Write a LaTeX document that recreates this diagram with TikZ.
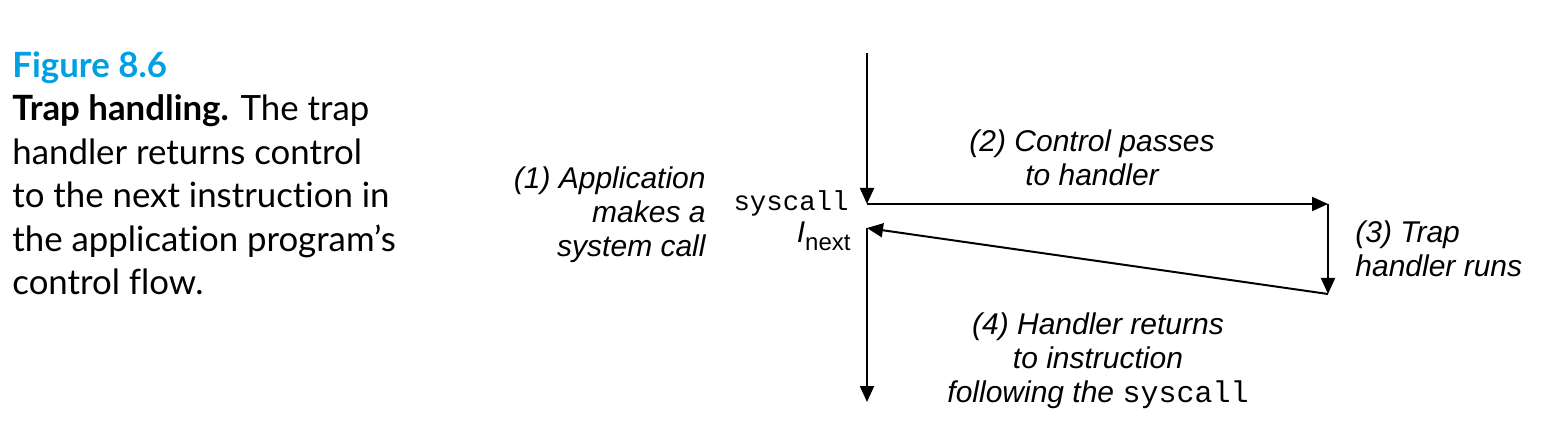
\documentclass[tikz,border=0pt]{standalone}
\usepackage{fontspec}
\setmainfont{Lato}[Ligatures=NoCommon]
\setmonofont{Liberation Mono}
\newfontfamily\lblfont{Liberation Sans}
\usepackage{tikz}
\usepackage{tkz-euclide}
\usepackage{xcolor}
\usetikzlibrary{arrows.meta}
\definecolor{figblue}{RGB}{0,160,227}

\tikzset{
  flow/.style={line width=1pt,-{Triangle[length=8pt,width=7pt]}},
  lbl/.style={font=\lblfont\itshape\fontsize{15}{17}\selectfont,inner sep=0pt},
  captxt/.style={font=\fontsize{17.4}{21.75}\selectfont,inner sep=0pt,align=left,anchor=north west}
}

\begin{document}
\begin{tikzpicture}[x=0.5pt,y=-0.5pt]
    \useasboundingbox (0,0) rectangle (1547,443);
    \tkzDefPoints{867/53/A,867/204/S,1328/204/H,1328/294/R,867/228/N,867/402/E}
    \draw[flow] (A) -- (S);
    \draw[flow] (S) -- (H);
    \draw[flow] (H) -- (R);
    \draw[flow] (R) -- (N);
    \draw[flow] (N) -- (E);
    % caption
    \node[captxt] (fig) at (12,51) {{\color{figblue}\bfseries Figure 8.6}\\
      \textbf{Trap handling.} The trap\\
      handler returns control\\
      to the next instruction in\\
      the application program’s\\
      control flow.};
    % labels
    \node[lbl,anchor=east,align=right] (app) at (706,215) {(1) Application\\makes a\\system call};
    \node[inner sep=0pt,anchor=east,font=\ttfamily\fontsize{13.7}{15}\selectfont] (sys) at (849,203) {syscall};
    \node[inner sep=0pt,anchor=base east,font=\lblfont\fontsize{15}{17}\selectfont] (nxt) at (851,243)
      {\textit{I}\raisebox{-4pt}{\fontsize{12}{12}\selectfont next}};
    \node[lbl,align=center] (pass) at (1092,158) {(2) Control passes\\to handler};
    \node[lbl,anchor=west,align=left] (run) at (1355,249) {(3) Trap\\handler runs};
    \node[lbl,align=center] (back) at (1098,361) {(4) Handler returns\\to instruction\\following the {\upshape\ttfamily syscall}};
\end{tikzpicture}
\end{document}
